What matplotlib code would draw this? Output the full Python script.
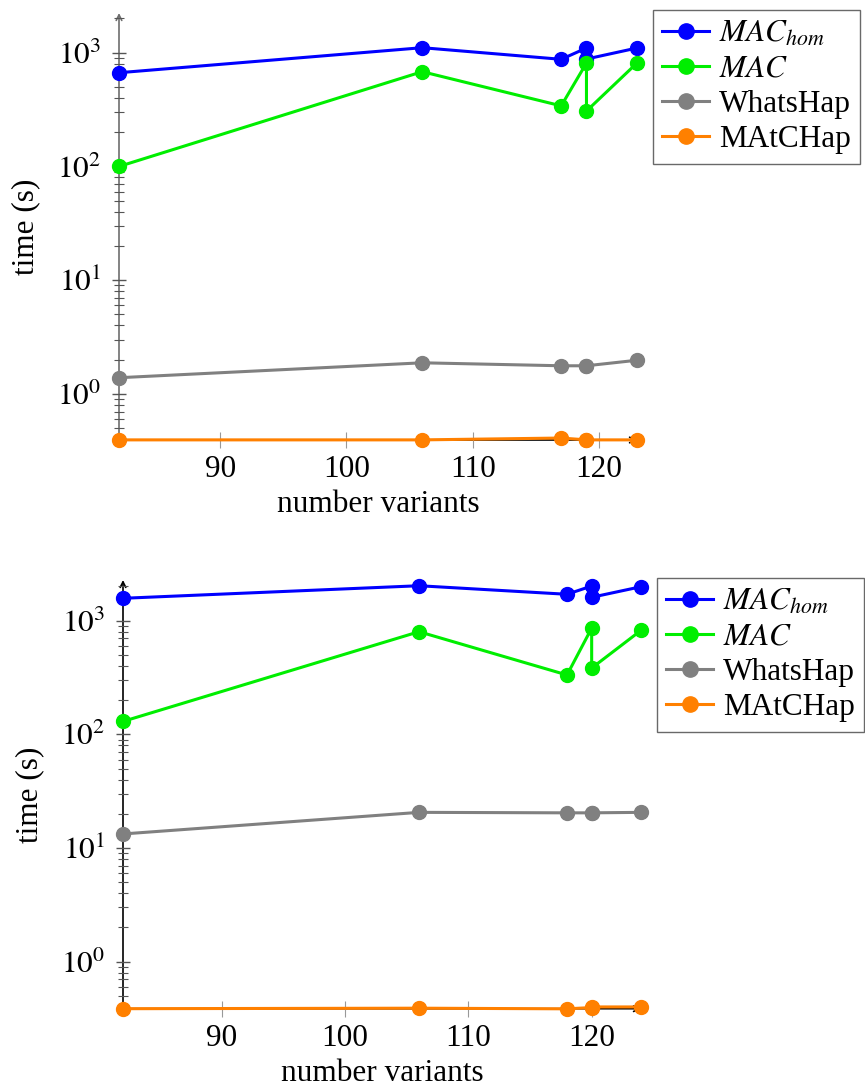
import math
import matplotlib
matplotlib.use("Agg")
import matplotlib.pyplot as plt
from matplotlib.ticker import LogLocator, FuncFormatter, NullFormatter, FixedLocator

# ---- data ----
x_top = [82, 106, 117, 119, 119, 123]
mac_hom_top = [667, 1107, 875, 1100, 880, 1100]
mac_top = [100, 681, 341, 812, 307, 812]
whatshap_top = [1.39, 1.88, 1.77, 1.77, 1.77, 1.98]
matchap_top = [0.395, 0.395, 0.41, 0.395, 0.395, 0.395]

x_bot = [82, 106, 118, 120, 120, 124]
mac_hom_bot = [1574, 2030, 1707, 2018, 1606, 1990]
mac_bot = [130, 800, 333, 860, 383, 822]
whatshap_bot = [13.3, 20.6, 20.4, 20.4, 20.4, 20.6]
matchap_bot = [0.386, 0.39, 0.385, 0.395, 0.40, 0.40]

labels = [r'$MAC_{hom}$', r'$MAC$', 'WhatsHap', 'MAtCHap']
colors = ['#0000ff', '#00ee00', '#808080', '#ff8000']
x_ticks = [90, 100, 110, 120]

plt.rcParams['font.family'] = ['Liberation Serif', 'DejaVu Serif']
plt.rcParams['mathtext.fontset'] = 'stix'
FS = 22.5

fig = plt.figure(figsize=(8.65, 10.86), dpi=100)
W, H = 865, 1086

def make_axes(left, right, bottom, top, xlim, ylim, series, xs, spine_color, legend_xy):
    ax = fig.add_axes([left / W, 1 - bottom / H, (right - left) / W, (bottom - top) / H])
    ax.set_yscale('log')
    ax.set_xlim(*xlim)
    ax.set_ylim(*ylim)
    for s in ax.spines.values():
        s.set_visible(False)
    ax.annotate('', xy=(0, 1), xytext=(0, 0), xycoords='axes fraction',
                arrowprops=dict(arrowstyle='->', lw=1.2, color=spine_color,
                                shrinkA=0, shrinkB=0, mutation_scale=10), zorder=1)
    ax.annotate('', xy=(1, 0), xytext=(0, 0), xycoords='axes fraction',
                arrowprops=dict(arrowstyle='->', lw=1.2, color='black',
                                shrinkA=0, shrinkB=0, mutation_scale=10), zorder=1)
    handles = []
    for ys, lab, c in zip(series, labels, colors):
        h, = ax.plot(xs, ys, '-o', color=c, lw=2.2, ms=10, label=lab,
                     clip_on=False, zorder=3)
        handles.append(h)
    ax.yaxis.set_major_locator(LogLocator(base=10, numticks=10))
    ax.yaxis.set_major_formatter(FuncFormatter(lambda v, p: r'$10^{%d}$' % round(math.log10(v))))
    ax.yaxis.set_minor_locator(LogLocator(base=10, subs=range(2, 10), numticks=20))
    ax.yaxis.set_minor_formatter(NullFormatter())
    ax.xaxis.set_major_locator(FixedLocator(x_ticks))
    ax.tick_params(axis='y', which='major', direction='inout', length=10, width=1.0,
                   color='#555555', labelsize=FS, pad=8)
    ax.tick_params(axis='y', which='minor', direction='inout', length=7, width=0.8,
                   color='#555555')
    ax.tick_params(axis='x', which='major', direction='inout', length=12, width=0.8,
                   color='#999999', labelsize=FS, pad=5)
    ax.tick_params(axis='x', which='minor', length=0)
    ax.set_xlabel('number variants', fontsize=FS, labelpad=4)
    ax.set_ylabel('time (s)', fontsize=FS, labelpad=12)
    leg = fig.legend(handles=handles, loc='upper left',
                     bbox_to_anchor=(legend_xy[0] / W, 1 - legend_xy[1] / H),
                     fontsize=FS, frameon=True, fancybox=False, borderpad=0.3,
                     handlelength=1.5, handletextpad=0.3, labelspacing=0.2,
                     borderaxespad=0, markerscale=1.1)
    leg.get_frame().set_edgecolor('#444444')
    leg.get_frame().set_linewidth(1.0)
    return ax

make_axes(119, 637, 440, 13, (82, 123), (0.394, 2234),
          [mac_hom_top, mac_top, whatshap_top, matchap_top], x_top, '#6e6e6e', (653, 10))
make_axes(123, 641, 1008.7, 580, (82, 124), (0.386, 2280),
          [mac_hom_bot, mac_bot, whatshap_bot, matchap_bot], x_bot, 'black', (657, 578))

fig.savefig('out.png', dpi=100)
